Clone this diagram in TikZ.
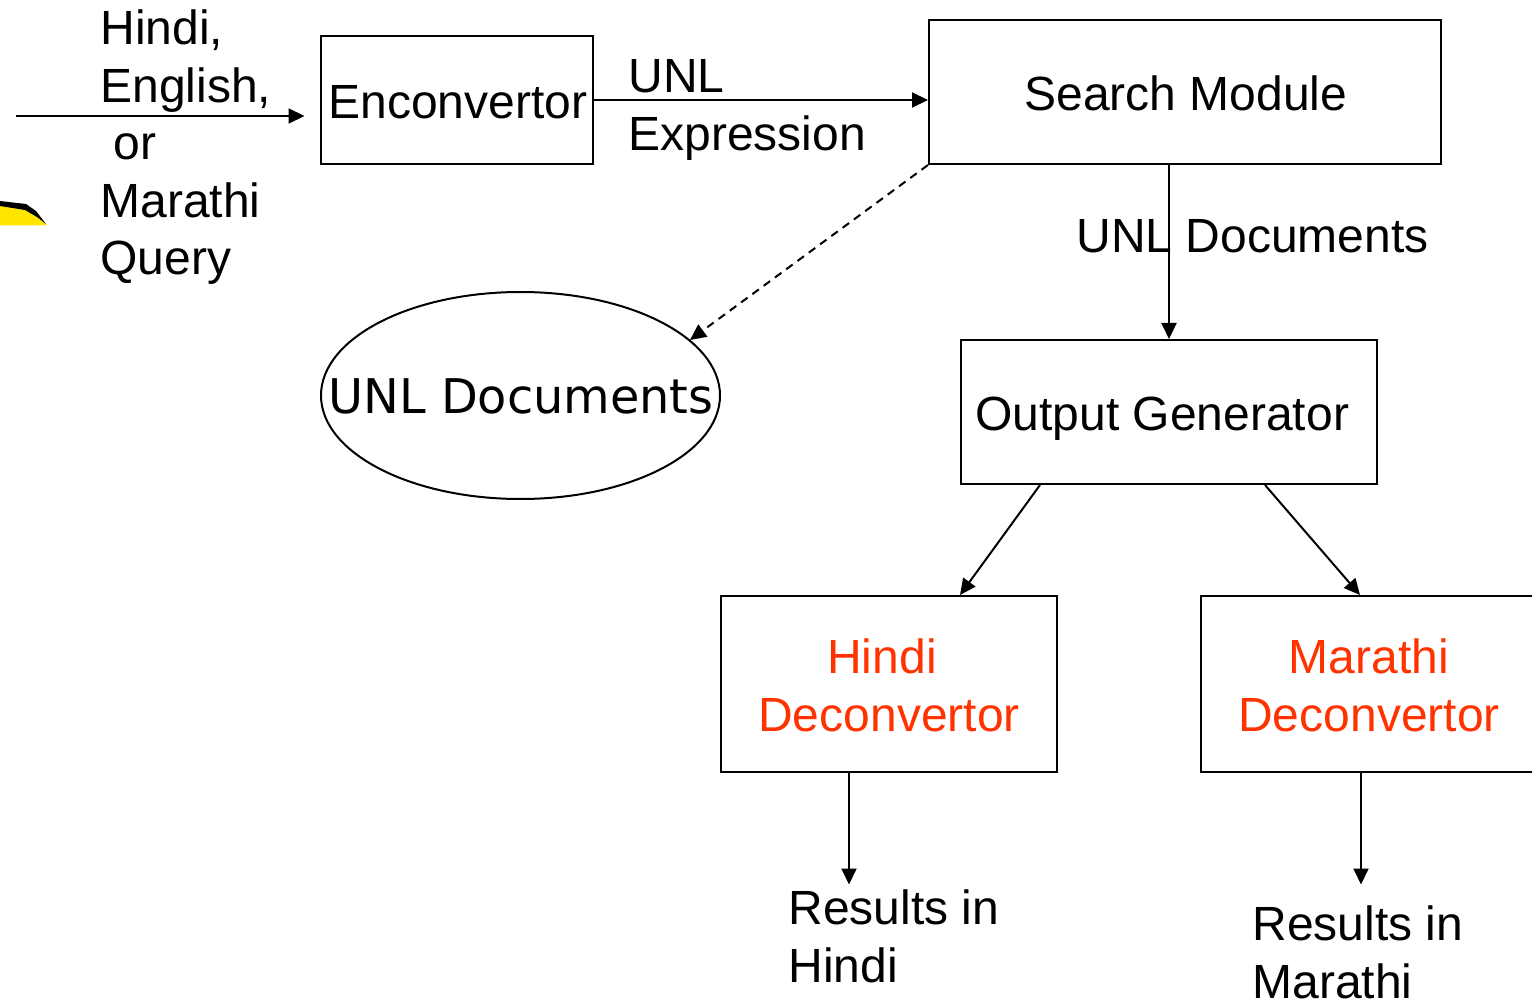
\documentclass[tikz,border=0pt]{standalone}
\usepackage{fontspec}
\setmainfont{Liberation Sans}
\newfontfamily\dejavu{DejaVu Sans}
\usetikzlibrary{arrows.meta,calc}
\definecolor{deco}{HTML}{FF3300}
\definecolor{blob}{HTML}{FFE600}
\tikzset{
  box/.style={draw=black,line width=2pt,rectangle,inner sep=0pt},
  lbl/.style={inner sep=0pt,outer sep=0pt,font=\fontsize{48}{57.6}\selectfont,anchor=base west,align=left},
  lblc/.style={inner sep=0pt,outer sep=0pt,font=\fontsize{48}{57.6}\selectfont,anchor=base,align=center,text=deco},
  conn/.style={line width=2pt,-{Triangle[length=16pt,width=15pt]}},
  dconn/.style={conn,dash pattern=on 8pt off 6pt}
}
\begin{document}
\begin{tikzpicture}[x=1pt,y=-1pt]
\useasboundingbox (0,0) rectangle (1532,1000);
% partly cut-off yellow shape
\fill[blob] (0,205) -- (25,208) -- (37,215) -- (47,225.5) -- (0,225.5) -- cycle;
\fill[black] (0,201) -- (26,204) -- (36,211) -- (46,224) -- (37,217) -- (25,210) -- (0,206) -- cycle;
% boxes
\node[box,minimum width=272pt,minimum height=128pt] (enc) at (457,100) {};
\node[box,minimum width=512pt,minimum height=144pt] (search) at (1185,92) {};
\node[box,minimum width=416pt,minimum height=144pt] (out) at (1169,412) {};
\node[box,minimum width=336pt,minimum height=176pt] (hdec) at (889,684) {};
\node[box,minimum width=336pt,minimum height=176pt] (mdec) at (1369,684) {};
\draw[line width=2pt] (520.5,395.5) ellipse [x radius=199.5,y radius=103.5];
% labels
\node[lbl] (query) at (100.5,275) {Hindi,\\English,\\\hspace*{13pt}or\\Marathi\\Query};
\node[lbl] (enctext) at (328.5,118.5) {Enconvertor};
\node[lbl] (unlexp) at (628.5,150.5) {UNL\\Expression};
\node[lbl] (searchtext) at (1024.5,110.5) {Search Module};
\node[lbl] (unldocs) at (1076.5,252.5) {UNL Documents};
\node[lbl,font=\dejavu\fontsize{47.8}{57.6}\selectfont] (doctext) at (328.5,413.5) {UNL Documents};
\node[lbl] (outtext) at (975.5,430.5) {Output Generator};
\node[lblc] (hdectext) at (889,731) {\hspace*{-14pt}Hindi\\Deconvertor};
\node[lblc] (mdectext) at (1369,731) {Marathi\\Deconvertor};
\node[lbl] (hres) at (788.5,982) {Results in\\Hindi};
\node[lbl] (mres) at (1252.5,998) {Results in\\Marathi};
% connector ends
\coordinate (qstart) at (16,116);
\coordinate (qend) at (304.5,116);
\coordinate (docin) at (690,340);
\coordinate (hresin) at (849,884.5);
\coordinate (mresin) at (1361,884.5);
% connectors
\draw[conn] (qstart) -- (qend);
\draw[conn] (enc.east) -- (enc.east -| search.west);
\draw[conn] (out.north |- search.south) -- (out.north);
\draw[dconn] (search.south west) -- (docin);
\draw[conn] ($(out.south west)+(80,0)$) -- ($(hdec.north west)+(240,0)$);
\draw[conn] ($(out.south west)+(305,0)$) -- ($(mdec.north west)+(160,0)$);
\draw[conn] (hresin |- hdec.south) -- (hresin);
\draw[conn] (mresin |- mdec.south) -- (mresin);
\end{tikzpicture}
\end{document}
